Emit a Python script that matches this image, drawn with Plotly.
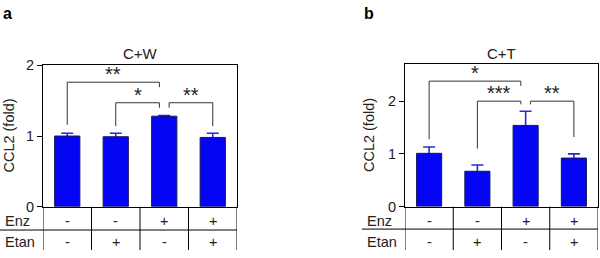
import plotly.graph_objects as go

# ---- data ----
enz_row = ["-", "-", "+", "+"]
etan_row = ["-", "+", "-", "+"]
positions = [0, 1, 2, 3]

cw_values = [1.00, 0.99, 1.28, 0.98]
cw_errors = [0.04, 0.05, 0.01, 0.06]

ct_values = [1.01, 0.67, 1.54, 0.92]
ct_errors = [0.12, 0.12, 0.27, 0.08]

# significance brackets: (x_left, x_right, y_bar, y_left_end, y_right_end, label)
cw_brackets = [
    (0.0, 1.9, 1.76, 1.16, 1.69, "**"),
    (1.0, 1.9, 1.47, 1.14, 1.40, "*"),
    (2.1, 3.0, 1.47, 1.40, 1.14, "**"),
]
ct_brackets = [
    (0.0, 1.9, 2.38, 1.28, 2.29, "*"),
    (1.0, 1.9, 2.00, 1.10, 1.94, "***"),
    (2.1, 3.0, 2.00, 1.94, 1.32, "**"),
]

FONT = "Liberation Sans, Arial, sans-serif"
W, H = 600, 258
BLUE = "#0505f5"
ERR = "#2b2bd6"

def py(p):  # pixel y -> paper
    return (H - p) / H

def px(p):
    return p / W

fig = go.Figure()

panels = [
    dict(xa="x", ya="y", vals=cw_values, errs=cw_errors, br=cw_brackets),
    dict(xa="x2", ya="y2", vals=ct_values, errs=ct_errors, br=ct_brackets),
]

for p in panels:
    # transparent bars carrying the error bars (lower half hidden by the real bars)
    fig.add_trace(go.Bar(
        x=positions, y=p["vals"], xaxis=p["xa"], yaxis=p["ya"], width=0.52,
        marker=dict(color="rgba(0,0,0,0)", line=dict(width=0)),
        error_y=dict(type="data", array=p["errs"], symmetric=True,
                     color=ERR, thickness=1.6, width=6),
        showlegend=False, hoverinfo="skip"))
    fig.add_trace(go.Bar(
        x=positions, y=p["vals"], xaxis=p["xa"], yaxis=p["ya"], width=0.52,
        marker=dict(color=BLUE, line=dict(color="#15155a", width=1)),
        showlegend=False))

shapes = []
annotations = []

for p in panels:
    for (xl, xr, yb, yle, yre, lab) in p["br"]:
        shapes.append(dict(type="path", xref=p["xa"], yref=p["ya"],
                           path=f"M {xl},{yle} L {xl},{yb} L {xr},{yb} L {xr},{yre}",
                           line=dict(color="#333333", width=1)))
        annotations.append(dict(x=(xl + xr) / 2, y=yb, xref=p["xa"], yref=p["ya"],
                                text=lab, showarrow=False, xanchor="center", yanchor="bottom",
                                yshift=-5, font=dict(family=FONT, size=20, color="#222")))

axis_common = dict(showline=True, linecolor="black", linewidth=1, mirror=True,
                   showgrid=False, zeroline=False)

tables = [
    dict(xa="x", zero_py=212, row_line_py=236.7, row_line_x0=0, row_line_x1=237,
         label_x=3, enz_py=226.7, etan_py=250),
    dict(xa="x2", zero_py=211.7, row_line_py=235.7, row_line_x0=362, row_line_x1=598,
         label_x=365, enz_py=226.7, etan_py=250),
]

def txt(x, y, text, xref="paper", yref="paper", xanchor="center", size=14.5, **kw):
    d = dict(x=x, y=y, xref=xref, yref=yref, text=text, showarrow=False,
             xanchor=xanchor, yanchor="middle",
             font=dict(family=FONT, size=size, color=kw.pop("color", "#222")))
    d.update(kw)
    return d

for t in tables:
    for xb in [-0.5, 0.5, 1.5, 2.5, 3.5]:
        shapes.append(dict(type="line", xref=t["xa"], yref="paper", x0=xb, x1=xb,
                           y0=0, y1=py(t["zero_py"]), line=dict(color="black", width=1)))
    shapes.append(dict(type="line", xref="paper", yref="paper",
                       x0=px(t["row_line_x0"]), x1=px(t["row_line_x1"]),
                       y0=py(t["row_line_py"]), y1=py(t["row_line_py"]),
                       line=dict(color="black", width=1)))
    annotations.append(txt(px(t["label_x"]), py(t["enz_py"]), "Enz", xanchor="left"))
    annotations.append(txt(px(t["label_x"]), py(t["etan_py"]), "Etan", xanchor="left"))
    for i, pos in enumerate(positions):
        annotations.append(txt(pos, py(t["enz_py"]), enz_row[i], xref=t["xa"]))
        annotations.append(txt(pos, py(t["etan_py"]), etan_row[i], xref=t["xa"]))

annotations += [
    txt(px(140), py(49), "C+W", size=15),
    txt(px(501.5), py(49), "C+T", size=15),
    txt(px(1), py(6), "<b>a</b>", xanchor="left", size=16, color="black"),
    txt(px(362), py(6), "<b>b</b>", xanchor="left", size=16, color="black"),
    txt(px(9), py(136), "CCL2 (fold)", textangle=-90),
    txt(px(368.5), py(136), "CCL2 (fold)", textangle=-90),
]

fig.update_layout(
    width=W, height=H, margin=dict(l=0, r=0, t=0, b=0),
    paper_bgcolor="white", plot_bgcolor="white",
    barmode="overlay", showlegend=False,
    xaxis=dict(domain=[px(43), px(237)], range=[-0.5, 3.5], showticklabels=False,
               ticks="", **axis_common),
    xaxis2=dict(domain=[px(405), px(598)], range=[-0.5, 3.5], showticklabels=False,
                ticks="", anchor="y2", **axis_common),
    yaxis=dict(domain=[py(212), py(61)], range=[0, 2], tickvals=[0, 1, 2],
               ticks="outside", ticklen=5, tickcolor="black",
               tickfont=dict(family=FONT, size=14.5, color="#222"), **axis_common),
    yaxis2=dict(domain=[py(211.7), py(60)], range=[0, 2.7], tickvals=[0, 1, 2],
                ticks="outside", ticklen=5, tickcolor="black", anchor="x2",
                tickfont=dict(family=FONT, size=14.5, color="#222"), **axis_common),
    shapes=shapes, annotations=annotations,
)

fig.write_html("out.html", config={"displayModeBar": False},
               post_script="document.body.style.margin='0';")
